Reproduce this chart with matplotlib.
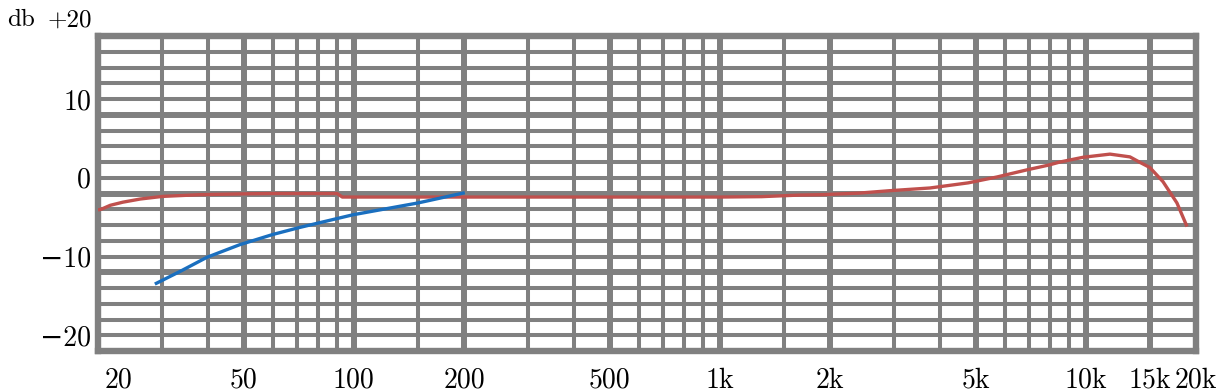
import matplotlib
matplotlib.use("Agg")
import matplotlib.pyplot as plt
import matplotlib.transforms as mtransforms
import numpy as np

# ---- data ----
red_freq = [20, 20.5, 21.6, 23.4, 26.1, 30, 38, 49, 60, 80, 90, 93, 200, 500, 1000, 1300,
            1650, 1900, 2400, 2900, 3750, 4770, 5720, 6900, 7900, 8500, 9830,
            11640, 13200, 14060, 14960, 16250, 17740, 18900]
red_db = [-4.1, -3.96, -3.5, -3.1, -2.7, -2.37, -2.15, -2.05, -2.0, -2.0, -2.0, -2.45,
          -2.45, -2.45, -2.45, -2.4, -2.2, -2.15, -1.95, -1.65, -1.3, -0.65, 0.1,
          1.0, 1.6, 2.0, 2.6, 3.0, 2.65, 1.95, 1.3, -0.5, -3.2, -6.2]

blue_freq = [28.6, 33.5, 39.7, 48.8, 60.1, 71.3, 80.8, 99.5, 149.7, 201]
blue_db = [-13.5, -11.9, -10.1, -8.5, -7.2, -6.3, -5.7, -4.7, -3.2, -1.9]

x_tick_vals = [20, 50, 100, 200, 500, 1000, 2000, 5000, 10000, 15000, 20000]
x_tick_labels = ["20", "50", "100", "200", "500", "1k", "2k", "5k", "10k", "15k", "20k"]
x_major_grid = [50, 100, 200, 500, 1000, 2000, 5000, 10000, 15000]
x_minor_grid = [30, 40, 60, 70, 80, 90, 150, 300, 400, 600, 700, 800, 900,
                1500, 3000, 4000, 6000, 7000, 8000, 9000]
y_tick_vals = [-20, -10, 0, 10]
y_tick_labels = ["\u221220", "\u221210", "0", "10"]
y_major_grid = [-12, -2, 8]
y_minor_grid = [-20, -18, -16, -14, -10, -8, -6, -4, 0, 2, 4, 6, 10, 12, 14, 16]

# ---- style ----
plt.rcParams['font.family'] = ['cmr10', 'DejaVu Serif']
plt.rcParams['axes.formatter.use_mathtext'] = True
GRAY = "#808080"
RED = "#c0504d"
BLUE = "#1a6fbf"
FS = 20

fig = plt.figure(figsize=(12.32, 3.92), dpi=100)
ax = fig.add_axes([98 / 1232, 1 - 351 / 392, (1196 - 98) / 1232, (351 - 36) / 392])
ax.set_xscale('log')
ax.set_xlim(20, 20000)
ax.set_ylim(-22, 18)

for f in x_minor_grid:
    ax.axvline(f, color=GRAY, lw=2.9, zorder=1)
for f in x_major_grid:
    ax.axvline(f, color=GRAY, lw=4.3, zorder=1)
for d in y_minor_grid:
    ax.axhline(d, color=GRAY, lw=2.9, zorder=1)
for d in y_major_grid:
    ax.axhline(d, color=GRAY, lw=4.3, zorder=1)

for s in ax.spines.values():
    s.set_color(GRAY)
    s.set_linewidth(4.6)

ax.plot(red_freq, red_db, color=RED, lw=2.4, zorder=3, solid_capstyle='butt',
        solid_joinstyle='round')
ax.plot(blue_freq, blue_db, color=BLUE, lw=2.4, zorder=4, solid_capstyle='butt',
        solid_joinstyle='round')

ax.xaxis.set_minor_locator(matplotlib.ticker.NullLocator())
ax.set_xticks(x_tick_vals)
ax.set_xticklabels(x_tick_labels, fontsize=FS)
ax.set_yticks(y_tick_vals)
ax.set_yticklabels(y_tick_labels, fontsize=FS)
ax.tick_params(axis='x', length=0, pad=12)
ax.tick_params(axis='y', length=0, pad=5)

lbls = ax.get_xticklabels()
lbls[0].set_horizontalalignment('left')
lbls[0].set_transform(lbls[0].get_transform() +
                      mtransforms.ScaledTranslation(7 / 100, 0, fig.dpi_scale_trans))

ax.annotate("+20", xy=(0, 20), xycoords=ax.get_yaxis_transform(),
            xytext=(-4.3, 0), textcoords='offset points',
            ha='right', va='center', fontsize=18, annotation_clip=False)
fig.text(7 / 1232, 1 - 20 / 392, "db", ha='left', va='center', fontsize=18)

fig.savefig("out.png", dpi=100)
